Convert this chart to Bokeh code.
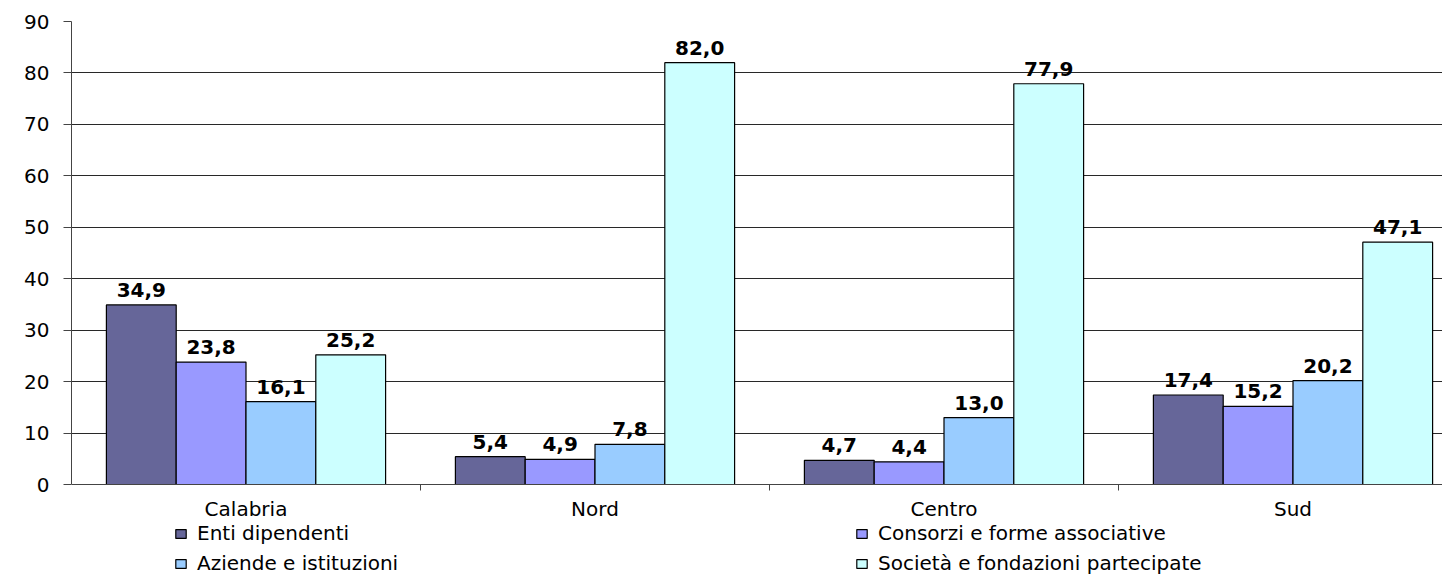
from bokeh.plotting import figure
from bokeh.models import Range1d, FixedTicker, Legend, LegendItem, ColumnDataSource, Span
from bokeh.core.properties import value
from bokeh.embed import file_html
from bokeh.resources import INLINE

categories = ["Calabria", "Nord", "Centro", "Sud"]
series_names = ["Enti dipendenti", "Consorzi e forme associative",
                "Aziende e istituzioni", "Società e fondazioni partecipate"]
enti = [34.9, 5.4, 4.7, 17.4]
consorzi = [23.8, 4.9, 4.4, 15.2]
aziende = [16.1, 7.8, 13.0, 20.2]
societa = [25.2, 82.0, 77.9, 47.1]
colors = ["#666699", "#9999FF", "#99CCFF", "#CCFFFF"]
y_ticks = [0, 10, 20, 30, 40, 50, 60, 70, 80, 90]
y_max = 90

FONT = "DejaVu Sans"
LEFT, TOP = 71, 21
PLOT_H = 463                 # pixel height of the 0..90 value area
FW, FH = 1442 - LEFT, 554    # frame extends below 0 to hold labels + legend
ppu = PLOT_H / y_max
y_min = -(FH - PLOT_H) / ppu

p = figure(frame_width=FW, frame_height=FH, output_backend="svg", toolbar_location=None,
           x_range=Range1d(0, FW / 349.0), y_range=Range1d(y_min, y_max),
           min_border_left=LEFT, min_border_top=TOP, min_border_right=0,
           min_border_bottom=0)
p.outline_line_color = None
p.background_fill_color = "white"
p.border_fill_color = "white"
p.xaxis.visible = False

# y axis
p.yaxis.ticker = FixedTicker(ticks=y_ticks)
p.yaxis.bounds = (0, y_max)
p.yaxis.major_label_text_font = FONT
p.yaxis.major_label_text_font_size = "20px"
p.yaxis.major_label_text_color = "black"
p.yaxis.major_tick_out = 8
p.yaxis.major_tick_in = 0
p.yaxis.minor_tick_out = 0
p.yaxis.minor_tick_in = 0
p.yaxis.major_label_standoff = 14
p.yaxis.axis_line_color = "#444444"
p.yaxis.major_tick_line_color = "#444444"

p.xgrid.grid_line_color = None
p.ygrid.ticker = FixedTicker(ticks=y_ticks[1:])
p.ygrid.grid_line_color = "#111111"
p.ygrid.grid_line_alpha = 0.9

# category axis at value 0
p.add_layout(Span(location=0, dimension="width", line_color="#444444", line_width=1))
bounds = list(range(1, len(categories)))
p.segment(x0=bounds, x1=bounds, y0=[0] * len(bounds), y1=[-6 / ppu] * len(bounds),
          line_color="#444444", line_width=1)
p.text(x=[i + 0.5 for i in range(len(categories))], y=[0] * len(categories),
       text=categories, text_align="center", text_baseline="middle", y_offset=24,
       text_font=value(FONT), text_font_size="20px", text_color="black")

all_series = [enti, consorzi, aziende, societa]
items = []
for j, (vals, col, name) in enumerate(zip(all_series, colors, series_names)):
    xs = [i + 0.2 + 0.2 * j for i in range(len(categories))]
    src = ColumnDataSource(dict(x=xs, top=vals,
                                lab=[f"{v:.1f}".replace(".", ",") for v in vals]))
    r = p.vbar(x="x", top="top", bottom=0, width=0.2, source=src,
               fill_color=col, line_color="black", line_width=1.2)
    p.text(x="x", y="top", text="lab", source=src, text_align="center",
           text_baseline="bottom", y_offset=-8, text_font=value(FONT),
           text_font_size="20px", text_font_style="bold", text_color="black")
    items.append(LegendItem(label=name, renderers=[r]))

# legend fills column by column: reorder so rows read as in the reference
legend_items = [items[0], items[2], items[1], items[3]]
legend = Legend(items=legend_items, ncols=2, location=(103, 0),
                label_text_font=FONT, label_text_font_size="20px",
                label_text_color="black", glyph_width=13, glyph_height=11,
                label_standoff=10, label_width=652, label_height=22, spacing=6,
                padding=0, margin=0, border_line_color=None,
                background_fill_alpha=0)
p.add_layout(legend, "center")

open("out.html", "w").write(file_html(p, INLINE))
